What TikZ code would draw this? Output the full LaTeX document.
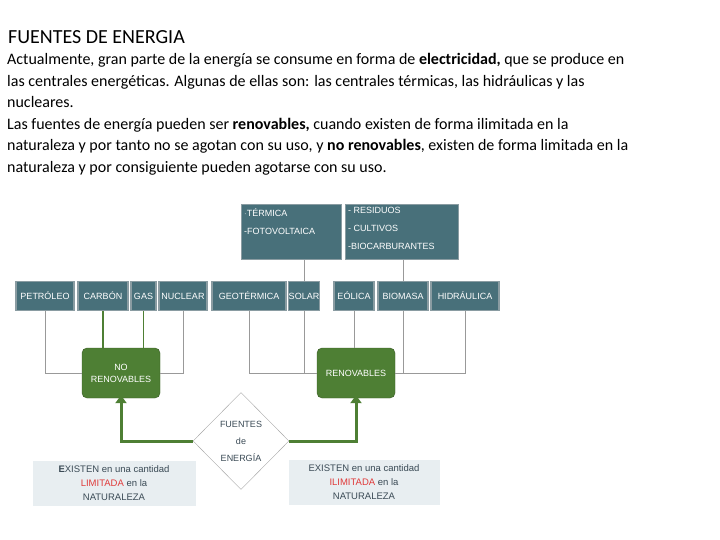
\documentclass[tikz,border=0pt]{standalone}
\usepackage{fontspec}
\setmainfont{Carlito}
\newfontfamily\arial{Liberation Sans}
\usetikzlibrary{shapes.geometric,arrows.meta}
\definecolor{teal}{HTML}{48707A}
\definecolor{tealb}{HTML}{8A9CA2}
\definecolor{grn}{HTML}{4E7F34}
\definecolor{pale}{HTML}{E8EEF1}
\definecolor{redt}{HTML}{E03A3A}
\definecolor{txtb}{HTML}{3A4A55}
\begin{document}
\begin{tikzpicture}[x=1pt,y=-1pt,
 src/.style={draw=tealb,line width=1.2pt,fill=teal,text=white,font=\arial\fontsize{9}{11}\selectfont,inner sep=0pt},
 grp/.style={draw=tealb,line width=1.2pt,fill=teal,anchor=north west},
 grpt/.style={text=white,font=\arial\fontsize{9}{18}\selectfont,inner sep=0pt,align=left,anchor=north west},
 gbox/.style={draw=grn!70!black,fill=grn,rounded corners=5pt,text=white,font=\arial\fontsize{9}{12}\selectfont,align=center,minimum width=78pt,minimum height=50pt},
 lnk/.style={draw=gray!80,line width=1pt},
 glnk/.style={draw=grn,line width=3pt},
 info/.style={fill=pale,font=\arial\fontsize{9.5}{14}\selectfont,text=txtb,align=center}]
\useasboundingbox (0,0) rectangle (720,540);
\node[anchor=base west,inner sep=0pt,font=\fontsize{20}{22}\selectfont] (title) at (8,44) {FUENTES DE ENERGIA};
\node[anchor=north west,inner sep=0pt,font=\fontsize{16}{21.6}\selectfont,align=left] (body) at (7,53)
{Actualmente, gran parte de la energía se consume en forma de \textbf{electricidad,} que se produce en\\
las centrales energéticas. Algunas de ellas son: las centrales térmicas, las hidráulicas y las\\
nucleares.\\
Las fuentes de energía pueden ser \textbf{renovables,} cuando existen de forma ilimitada en la\\
naturaleza y por tanto no se agotan con su uso, y \textbf{no renovables}, existen de forma limitada en la\\
naturaleza y por consiguiente pueden agotarse con su uso.};
% top group boxes
\node[grp,minimum width=100pt,minimum height=55pt] (ter) at (241,204) {};
\node[grpt] (tert) at (244,208) {$\cdot$TÉRMICA\\-FOTOVOLTAICA};
\node[grp,minimum width=113pt,minimum height=55pt] (res) at (345,204) {};
\node[grpt] (rest) at (348,207) {- RESIDUOS\\- CULTIVOS\\-BIOCARBURANTES};
% source boxes
\foreach \n/\t/\a/\b in {pet/PETRÓLEO/16/74,car/CARBÓN/78/128,gas/GAS/131/156,nuc/NUCLEAR/159/207,geo/GEOTÉRMICA/212/286,sol/SOLAR/289/319,eol/EÓLICA/334/374,bio/BIOMASA/378/428,hid/HIDRÁULICA/431/499}
 \node[src,minimum width=\b pt-\a pt,minimum height=29pt] (\n) at ({(\a+\b)/2},296) {\t};
\node[gbox] (nr) at (121,373) {NO\\RENOVABLES};
\node[gbox] (re) at (356,373) {RENOVABLES};
\node[diamond,draw=gray!70,fill=white,minimum width=96pt,minimum height=97pt,inner sep=0pt,align=center,font=\arial\fontsize{9}{17}\selectfont,text=txtb] (fe) at (241,441) {FUENTES\\de\\ENERGÍA};
\node[info,minimum width=163pt,minimum height=45pt] (i1) at (114,483) {\textbf{E}XISTEN en una cantidad\\\textcolor{redt}{LIMITADA} en la\\NATURALEZA};
\node[info,minimum width=151pt,minimum height=45pt] (i2) at (364,482) {EXISTEN en una cantidad\\\textcolor{redt}{ILIMITADA} en la\\NATURALEZA};
% links
\draw[lnk] (ter.south -| sol.north) -- (sol.north);
\draw[lnk] (res.south -| bio.north) -- (bio.north);
\draw[lnk] (pet.south) |- (nr.west);
\draw[lnk] (nuc.south) |- (nr.east);
\draw[lnk,draw=grn,line width=1.4pt] (car.south) -- (car.south |- nr.north);
\draw[lnk,draw=grn,line width=1.4pt] (gas.south) -- (gas.south |- nr.north);
\draw[lnk] (geo.south) |- (re.west);
\draw[lnk] (sol.south) -- (sol.south |- re.west);
\draw[lnk] (eol.south) -- (eol.south |- re.north);
\draw[lnk] (hid.south) |- (re.east);
\draw[lnk] (bio.south) -- (bio.south |- re.east);
\draw[glnk,-{Triangle[length=8pt,width=11pt]}] (fe.west) -| ([yshift=3pt]nr.south);
\draw[glnk,-{Triangle[length=8pt,width=11pt]}] (fe.east) -| ([yshift=3pt]re.south);
\end{tikzpicture}
\end{document}
